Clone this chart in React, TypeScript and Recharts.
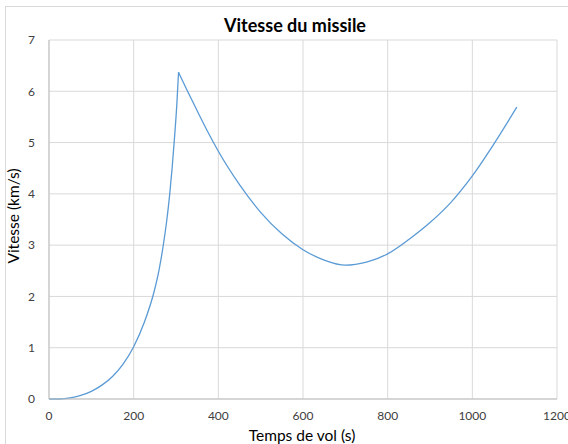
import React from 'react';
import { LineChart, Line, XAxis, YAxis, CartesianGrid } from 'recharts';

// temps de vol (s) et vitesse (km/s), lus sur le graphique
// phase propulsée (jusqu'au pic) puis phase balistique
const boostTime = [0, 25, 50, 75, 100, 125, 150, 175, 200, 225, 250, 260, 270, 278, 285, 291, 297, 302, 306];
const boostSpeed = [0, 0, 0.02, 0.07, 0.15, 0.27, 0.44, 0.68, 1.02, 1.49, 2.15, 2.52, 3.0, 3.47, 3.98, 4.52, 5.15, 5.75, 6.37];
const coastTime = [306, 325, 350, 375, 400, 450, 500, 550, 600, 650, 700, 750, 800, 850, 900, 950, 1000, 1050, 1105];
const coastSpeed = [6.37, 6.04, 5.62, 5.21, 4.83, 4.18, 3.64, 3.22, 2.91, 2.71, 2.61, 2.67, 2.83, 3.11, 3.44, 3.84, 4.35, 4.96, 5.69];
const xTicks = [0, 200, 400, 600, 800, 1000, 1200];
const yTicks = [0, 1, 2, 3, 4, 5, 6, 7];

const boostData = boostTime.map((t, i) => ({ t, v: boostSpeed[i] }));
const coastData = coastTime.map((t, i) => ({ t, v: coastSpeed[i] }));

const font = 'Lato, "Open Sans", sans-serif';

export default function App() {
  return (
    <div style={{ position: 'absolute', left: 0, top: 0, width: 568, height: 444, overflow: 'hidden', background: '#fff', fontFamily: font }}>
      <div style={{ position: 'absolute', left: 5, top: 6, width: 600, height: 500, border: '1px solid #D9D9D9' }} />
      <LineChart width={568} height={444} margin={{ top: 40, right: 11, bottom: 15, left: 0 }}>
        <CartesianGrid stroke="#D9D9D9" strokeWidth={1} />
        <XAxis
          dataKey="t"
          type="number"
          domain={[0, 1200]}
          ticks={xTicks}
          height={30}
          tickSize={0}
          tickMargin={12}
          stroke="#BFBFBF"
          tick={{ fill: '#404040', fontSize: 12, fontFamily: font }}
          interval={0}
          allowDuplicatedCategory={false}
        />
        <YAxis
          type="number"
          domain={[0, 7]}
          ticks={yTicks}
          width={49}
          tickSize={0}
          tickMargin={14}
          stroke="#BFBFBF"
          tick={{ fill: '#404040', fontSize: 12, fontFamily: font }}
          interval={0}
        />
        <Line data={boostData} type="monotone" dataKey="v" stroke="#5B9BD5" strokeWidth={1.3} dot={false} isAnimationActive={false} />
        <Line data={coastData} type="monotone" dataKey="v" stroke="#5B9BD5" strokeWidth={1.3} dot={false} isAnimationActive={false} />
      </LineChart>
      <div style={{ position: 'absolute', left: 195, width: 200, top: 14, textAlign: 'center', fontWeight: 700, fontSize: 18, color: '#000', lineHeight: '22px' }}>
        Vitesse du missile
      </div>
      <div style={{ position: 'absolute', left: 202, width: 200, top: 427, textAlign: 'center', fontSize: 15.5, color: '#000', lineHeight: '16px' }}>
        Temps de vol (s)
      </div>
      <div style={{ position: 'absolute', left: -87, width: 200, top: 207, textAlign: 'center', fontSize: 15.5, color: '#000', lineHeight: '18px', transform: 'rotate(-90deg)' }}>
        Vitesse (km/s)
      </div>
    </div>
  );
}
